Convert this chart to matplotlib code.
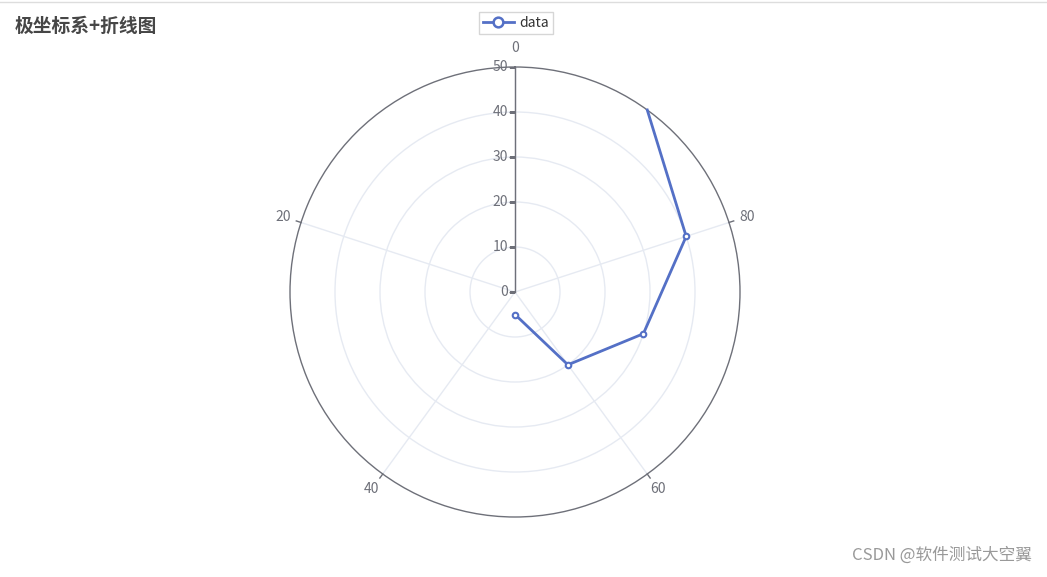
import numpy as np
import matplotlib
matplotlib.use('Agg')
import matplotlib.pyplot as plt
from matplotlib.lines import Line2D

plt.rcParams['font.family'] = ['Noto Sans CJK SC', 'DejaVu Sans']

# dados da série (raio, ângulo)
raios = [5, 20, 30, 40, 50]
angulos = [50, 60, 70, 80, 90]

angulo_max = 100
ticks_angulo = [0, 20, 40, 60, 80]
ticks_raio = [0, 10, 20, 30, 40, 50]

COR_EIXO = '#6E7079'
COR_GRADE = '#E6EAF2'
COR_LINHA = '#5470C6'


def para_rad(v):
    return np.asarray(v, dtype=float) / angulo_max * 2 * np.pi


fig = plt.figure(figsize=(10.47, 5.77), dpi=100)
ax = fig.add_axes([290 / 1047, 60 / 577, 450 / 1047, 450 / 577], projection='polar')
ax.set_theta_zero_location('N')
ax.set_theta_direction(1)
ax.set_ylim(0, 50)

# grade
ax.set_xticks(para_rad(ticks_angulo))
ax.set_yticks(ticks_raio[1:-1])
ax.set_xticklabels([])
ax.set_yticklabels([])
ax.tick_params(length=0)
ax.grid(True, color=COR_GRADE, linewidth=1)
ax.spines['polar'].set_color(COR_EIXO)
ax.spines['polar'].set_linewidth(1)

# eixo radial
ax.plot([0, 0], [0, 50], color=COR_EIXO, linewidth=1, zorder=3)
for r in ticks_raio:
    ax.plot([0], [r], marker=0, markersize=4, color=COR_EIXO, markeredgewidth=1, zorder=3)
    ax.annotate(str(r), (0, r), xytext=(-5, 0), textcoords='offset points',
                ha='right', va='center', fontsize=10, color=COR_EIXO)

# eixo angular
for a in ticks_angulo:
    t = para_rad(a)
    if a != 0:
        ax.plot([t, t], [50, 51.1], color=COR_EIXO, linewidth=1, clip_on=False)
    ax.text(t, 54.2, str(a), ha='center', va='center', fontsize=10, color=COR_EIXO, clip_on=False)

# série
ax.plot(para_rad(angulos), raios, color=COR_LINHA, linewidth=2, zorder=4, clip_on=False)
ax.plot(para_rad(angulos[:-1]), raios[:-1], linestyle='none', marker='o', markersize=4,
        markerfacecolor='white', markeredgecolor=COR_LINHA, markeredgewidth=1.5, zorder=5)

# legenda
alca = Line2D([], [], color=COR_LINHA, linewidth=2, marker='o', markersize=7,
              markerfacecolor='white', markeredgecolor=COR_LINHA, markeredgewidth=1.8)
leg = fig.legend([alca], ['data'], loc='center', bbox_to_anchor=(516 / 1047, 1 - 23 / 577),
                 fontsize=10, frameon=True, fancybox=False, handlelength=2.2,
                 borderpad=0.3, handletextpad=0.4, labelcolor='#333333')
leg.get_frame().set_edgecolor('#cccccc')
leg.get_frame().set_linewidth(1)

# título e marca d'água
fig.text(15 / 1047, 1 - 26 / 577, '极坐标系+折线图', fontsize=13.5, fontweight='bold',
         color='#464646', va='center', ha='left')
fig.text(1032 / 1047, 1 - 555 / 577, 'CSDN @软件测试大空翼', fontsize=12,
         color='#999999', va='center', ha='right')
fig.add_artist(Line2D([0, 1], [1 - 2 / 577, 1 - 2 / 577], color='#dddddd', linewidth=1,
                      transform=fig.transFigure))

fig.savefig('out.png', dpi=100)
